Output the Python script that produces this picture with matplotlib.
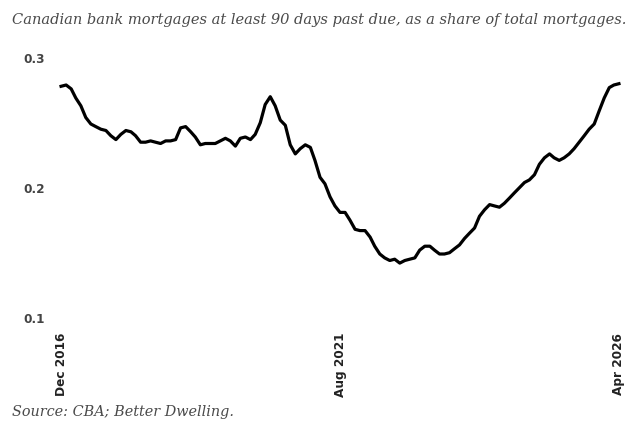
import matplotlib
matplotlib.use("Agg")
import matplotlib.pyplot as plt
import pandas as pd

# monthly share of mortgages 90+ days past due (%), Dec 2016 .. Apr 2026
start_month = "2016-12-01"
arrears = [
    0.278, 0.279, 0.276, 0.269, 0.263, 0.254, 0.249, 0.247, 0.245, 0.244,
    0.240, 0.237, 0.241, 0.244, 0.243, 0.240, 0.235, 0.235, 0.236, 0.235,
    0.234, 0.236, 0.236, 0.237, 0.246, 0.247, 0.243, 0.239, 0.233, 0.234,
    0.234, 0.234, 0.236, 0.238, 0.236, 0.232, 0.238, 0.239, 0.237, 0.241,
    0.250, 0.264, 0.270, 0.263, 0.252, 0.248, 0.233, 0.226, 0.230, 0.233,
    0.231, 0.221, 0.208, 0.203, 0.193, 0.186, 0.181, 0.181, 0.175, 0.168,
    0.167, 0.167, 0.162, 0.155, 0.149, 0.146, 0.144, 0.145, 0.142, 0.144,
    0.145, 0.146, 0.152, 0.155, 0.155, 0.152, 0.149, 0.149, 0.150, 0.153,
    0.156, 0.161, 0.165, 0.169, 0.178, 0.183, 0.187, 0.186, 0.185, 0.188,
    0.192, 0.196, 0.200, 0.204, 0.206, 0.210, 0.218, 0.223, 0.226, 0.223,
    0.221, 0.223, 0.226, 0.230, 0.235, 0.240, 0.245, 0.249, 0.259, 0.269,
    0.277, 0.279, 0.280,
]
y_ticks = [0.1, 0.2, 0.3]
y_tick_labels = ["0.1", "0.2", "0.3"]
x_tick_labels = ["Dec 2016", "Aug 2021", "Apr 2026"]

subtitle = "Canadian bank mortgages at least 90 days past due, as a share of total mortgages."
source = "Source: CBA; Better Dwelling."

months = pd.date_range(start_month, periods=len(arrears), freq="MS")
tick_dates = [months[0], months[len(months) // 2], months[-1]]

fig = plt.figure(figsize=(6.4, 4.3), dpi=100)
ax = fig.add_axes([55 / 640, 1 - 317.7 / 430, 570 / 640, 260 / 430])

ax.plot(months, arrears, color="black", linewidth=2.3, solid_joinstyle="round")

pad_days = 37
ax.set_xlim(months[0] - pd.Timedelta(days=pad_days), months[-1] + pd.Timedelta(days=pad_days))
ax.set_ylim(0.1, 0.3)

ax.set_yticks(y_ticks)
ax.set_yticklabels(y_tick_labels, fontfamily="DejaVu Sans", fontweight="bold",
                   fontsize=8.7, color="#444444")
ax.set_xticks(tick_dates)
ax.set_xticklabels(x_tick_labels, rotation=90, fontfamily="DejaVu Sans",
                   fontweight="bold", fontsize=8.7, color="#222222")
ax.tick_params(axis="y", length=0, pad=7)
ax.tick_params(axis="x", length=0, pad=11)
for side in ax.spines.values():
    side.set_visible(False)

fig.text(12 / 640, 1 - 20 / 430, subtitle, fontfamily="DejaVu Serif", style="italic",
         fontsize=10.5, color="#4a4a4a", ha="left", va="center")
fig.text(12 / 640, 1 - 412 / 430, source, fontfamily="DejaVu Serif", style="italic",
         fontsize=10.4, color="#4a4a4a", ha="left", va="center")

fig.savefig("out.png", dpi=100)
